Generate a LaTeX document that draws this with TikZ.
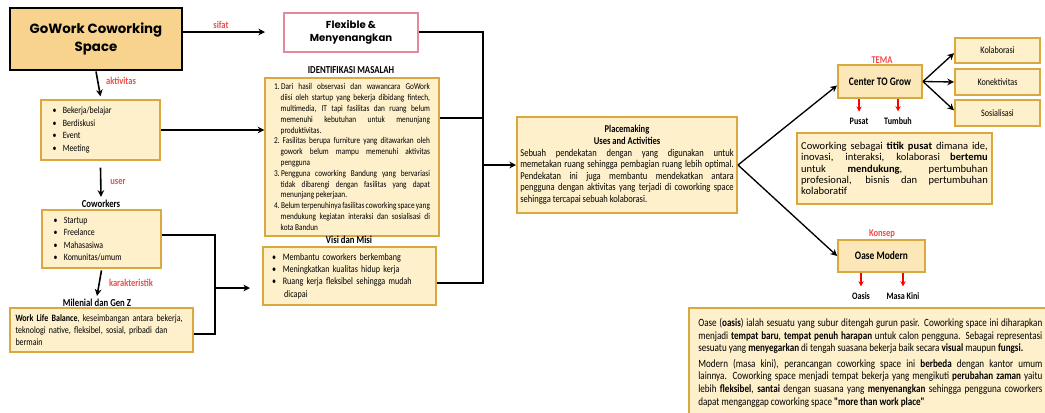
\documentclass[tikz,border=0pt]{standalone}
\usepackage{fontspec}
\setmainfont{Carlito}
\newfontfamily\popfont{Poppins}
\newfontfamily\sempit{Carlito}[FakeStretch=0.82]
\usetikzlibrary{arrows.meta,positioning}
\definecolor{tanfill}{HTML}{F7D38E}
\definecolor{creamfill}{HTML}{FEF0CB}
\definecolor{goldline}{HTML}{D9A83E}
\definecolor{pinkline}{HTML}{E3899B}
\definecolor{redlabel}{HTML}{F04B4B}
\hyphenpenalty=10000
\exhyphenpenalty=10000
\tolerance=9999
\emergencystretch=8pt

\tikzset{
  kotak/.style={draw=goldline, line width=1.5pt, fill=creamfill, inner sep=0pt,
    align=justify, font=\sempit\fontsize{7.2}{9.4}\selectfont},
  judul/.style={font=\sempit\bfseries\fontsize{8}{9}\selectfont},
  merah/.style={text=redlabel, font=\sempit\bfseries\fontsize{7.8}{9}\selectfont},
  panah/.style={-{Stealth[length=5pt,width=5pt]}, line width=1.2pt},
  garis/.style={line width=1.6pt},
  panahmerah/.style={-{Stealth[length=4pt,width=4pt]}, red, line width=1pt},
  kecil/.style={kotak, align=center, font=\sempit\fontsize{7.4}{8}\selectfont},
  kata/.style={font=\sempit\bfseries\fontsize{7.4}{8}\selectfont},
}

\begin{document}
\begin{tikzpicture}[x=0.75pt,y=-0.75pt]
	\useasboundingbox (0,0) rectangle (1045,412);

	% kiri
	\node[draw, line width=2.2pt, fill=tanfill, minimum width=129pt, minimum height=46.5pt, align=center,
		font=\popfont\bfseries\fontsize{10}{13}\selectfont] (gowork) at (96,39) {GoWork Coworking\\Space};
	\node[kotak, minimum width=89pt, minimum height=45pt, text width=72pt, align=left] (aktivitas) at (100.5,130)
		{\textbullet\ \ Bekerja/belajar\\ \textbullet\ \ Berdiskusi\\ \textbullet\ \ Event\\ \textbullet\ \ Meeting};
	\node[judul] (coworkers) at (101,204) {Coworkers};
	\node[kotak, minimum width=89pt, minimum height=43.5pt, text width=72pt, align=left] (cowbox) at (101.5,239)
		{\textbullet\ \ Startup\\ \textbullet\ \ Freelance\\ \textbullet\ \ Mahasasiwa\\ \textbullet\ \ Komunitas/umum};
	\node[judul] (milenial) at (97,303) {Milenial dan Gen Z};
	\node[kotak, minimum width=137pt, minimum height=33pt, text width=129pt, align=left,
		font=\sempit\fontsize{7.3}{8.8}\selectfont] (wlb) at (101.5,330)
		{\textbf{Work Life Balance}, keseimbangan antara bekerja, teknologi native, fleksibel, sosial, pribadi dan bermain};

	\node[merah] (sifat) at (221,25) {sifat};
	\node[merah] (lblaktivitas) at (121,81) {aktivitas};
	\node[merah] (user) at (118,182) {user};
	\node[merah] (karakteristik) at (131,283) {karakteristik};

	% tengah
	\node[draw=pinkline, line width=1.3pt, fill=white, minimum width=100.5pt, minimum height=29pt, align=center,
		font=\popfont\bfseries\fontsize{7.6}{10}\selectfont] (flexible) at (351,32.5) {Flexible \&\\Menyenangkan};
	\node[judul] (identitle) at (351,70) {IDENTIFIKASI MASALAH};
	\node[kotak, minimum width=130pt, minimum height=118.5pt, text width=117pt,
		font=\sempit\fontsize{6.7}{8.1}\selectfont] (identifikasi) at (352,157)
		{\hangindent=5pt\hangafter=1 1.\,Dari hasil observasi dan wawancara GoWork diisi oleh startup yang bekerja dibidang fintech, multimedia, IT tapi fasilitas dan ruang belum memenuhi kebutuhan untuk menunjang produktivitas.\par
		 \hangindent=5pt\hangafter=1 2.\ Fasilitas berupa furniture yang ditawarkan oleh gowork belum mampu memenuhi aktivitas pengguna\par
		 \hangindent=5pt\hangafter=1 3.\,Pengguna coworking Bandung yang bervariasi tidak dibarengi dengan fasilitas yang dapat menunjang pekerjaan.\par
		 \hangindent=5pt\hangafter=1 4.\,Belum terpenuhinya fasilitas coworking space yang mendukung kegiatan interaksi dan sosialisasi di kota Bandun\par};
	\node[judul] (visititle) at (349,240) {Visi dan Misi};
	\node[kotak, minimum width=130pt, minimum height=43.5pt, text width=116pt, align=left,
		font=\sempit\fontsize{7.4}{9.2}\selectfont] (visi) at (349.5,276)
		{\textbullet\ \ Membantu coworkers berkembang\\ \textbullet\ \ Meningkatkan kualitas hidup kerja\\
		 \textbullet\ \ Ruang kerja fleksibel sehingga mudah\\ \hspace*{9pt}dicapai};

	\node[kotak, minimum width=165pt, minimum height=72pt, text width=160pt,
		font=\sempit\fontsize{7.8}{8.7}\selectfont] (placemaking) at (627,165)
		{\centering\textbf{Placemaking}\\ \textbf{Uses and Activities}\par
		 Sebuah pendekatan dengan yang digunakan untuk memetakan ruang sehingga pembagian ruang lebih optimal. Pendekatan ini juga membantu mendekatkan antara pengguna dengan aktivitas yang terjadi di coworking space sehingga tercapai sebuah kolaborasi.};

	% kanan
	\node[merah] (tema) at (882,60) {TEMA};
	\node[kotak, fill=creamfill!70!tanfill, minimum width=63pt, minimum height=24.75pt, align=center,
		font=\sempit\bfseries\fontsize{8.6}{10}\selectfont] (centergrow) at (880,81.5) {Center TO Grow};
	\node[kecil, minimum width=63.75pt, minimum height=18.75pt] (kolaborasi) at (997.5,50.5) {Kolaborasi};
	\node[kecil, minimum width=63.75pt, minimum height=19.5pt] (konektivitas) at (997.5,82) {Konektivitas};
	\node[kecil, minimum width=63.75pt, minimum height=19.5pt] (sosialisasi) at (997.5,113) {Sosialisasi};
	\node[kata] (pusat) at (859,121) {Pusat};
	\node[kata] (tumbuh) at (898,121) {Tumbuh};
	\node[kotak, minimum width=146pt, minimum height=53pt, text width=140pt,
		font=\fontsize{7.9}{8.4}\selectfont] (cowdesc) at (894.5,168.5)
		{Coworking sebagai \textbf{titik pusat} dimana ide,\linebreak inovasi, interaksi, kolaborasi \textbf{bertemu}\linebreak untuk \textbf{mendukung}, pertumbuhan profesional, bisnis dan pertumbuhan kolaboratif};

	\node[merah] (konsep) at (882,234) {Konsep};
	\node[kotak, fill=creamfill!70!tanfill, minimum width=65pt, minimum height=24pt, align=center,
		font=\sempit\bfseries\fontsize{8.6}{10}\selectfont] (oase) at (881.5,256) {Oase Modern};
	\node[kata] (oasis) at (861,296) {Oasis};
	\node[kata] (masakini) at (903,296) {Masa Kini};
	\node[kotak, anchor=north west, minimum width=272pt, minimum height=82pt, text width=258pt,
		font=\sempit\fontsize{8.3}{9.4}\selectfont] (oasedesc) at (688,307)
		{Oase (\textbf{oasis}) ialah sesuatu yang subur ditengah gurun pasir. Coworking space ini diharapkan menjadi \textbf{tempat baru}, \textbf{tempat penuh harapan} untuk calon pengguna. Sebagai representasi sesuatu yang \textbf{menyegarkan} di tengah suasana bekerja baik secara \textbf{visual} maupun \textbf{fungsi.}\par\vspace{2.5pt}
		 Modern (masa kini), perancangan coworking space ini \textbf{berbeda} dengan kantor umum\linebreak lainnya. Coworking space menjadi tempat bekerja yang mengikuti \textbf{perubahan zaman} yaitu\linebreak lebih \textbf{fleksibel}, \textbf{santai} dengan suasana yang \textbf{menyenangkan} sehingga pengguna coworkers\linebreak dapat menganggap coworking space \textbf{"more than work place"}};

	% penghubung
	\coordinate (tipsifat) at (265,32);
	\coordinate (trunk) at (483,32);
	\coordinate (idright) at ([yshift=29pt]identifikasi.east);
	\coordinate (cowtrunk) at (215,288);
	\coordinate (tipcow) at (250,288);
	\draw[panah] (gowork.east |- tipsifat) -- (tipsifat);
	\draw[panah] (gowork.south) -- ([yshift=2pt]aktivitas.north);
	\draw[panah] ([yshift=-5pt]aktivitas.south) -- ([yshift=-1pt]coworkers.north);
	\draw[panah] ([yshift=-1pt]cowbox.south) -- ([yshift=-1pt]milenial.north);
	\draw[panah] (aktivitas.east) -- (identifikasi.west |- aktivitas.east);
	\draw[garis] (flexible.east |- trunk) -- (trunk) |- ([yshift=-5pt]visi.east);
	\draw[garis] (idright) -- (trunk |- idright);
	\draw[panah] (trunk |- placemaking.west) -- (placemaking.west);
	\draw[garis] ([yshift=3pt]cowbox.east) -| (cowtrunk) |- ([yshift=-3pt]wlb.east);
	\draw[panah] (cowtrunk) -- (tipcow);
	\draw[panah, line width=1pt] (placemaking.east) -- ([yshift=-3pt]centergrow.west);
	\draw[panah, line width=1pt] (placemaking.east) -- (oase.west);
	\draw[panah, line width=1pt] (centergrow.east) -- ([yshift=-2pt]kolaborasi.west);
	\draw[panah, line width=1pt] (centergrow.east) -- (konektivitas.west);
	\draw[panah, line width=1pt] (centergrow.east) -- ([yshift=2pt]sosialisasi.west);
	\foreach \k in {pusat,tumbuh} \draw[panahmerah] (\k |- centergrow.south) -- ([yshift=1pt]\k.north);
	\foreach \k in {oasis,masakini} \draw[panahmerah] (\k |- oase.south) -- ([yshift=1pt]\k.north);
\end{tikzpicture}
\end{document}
